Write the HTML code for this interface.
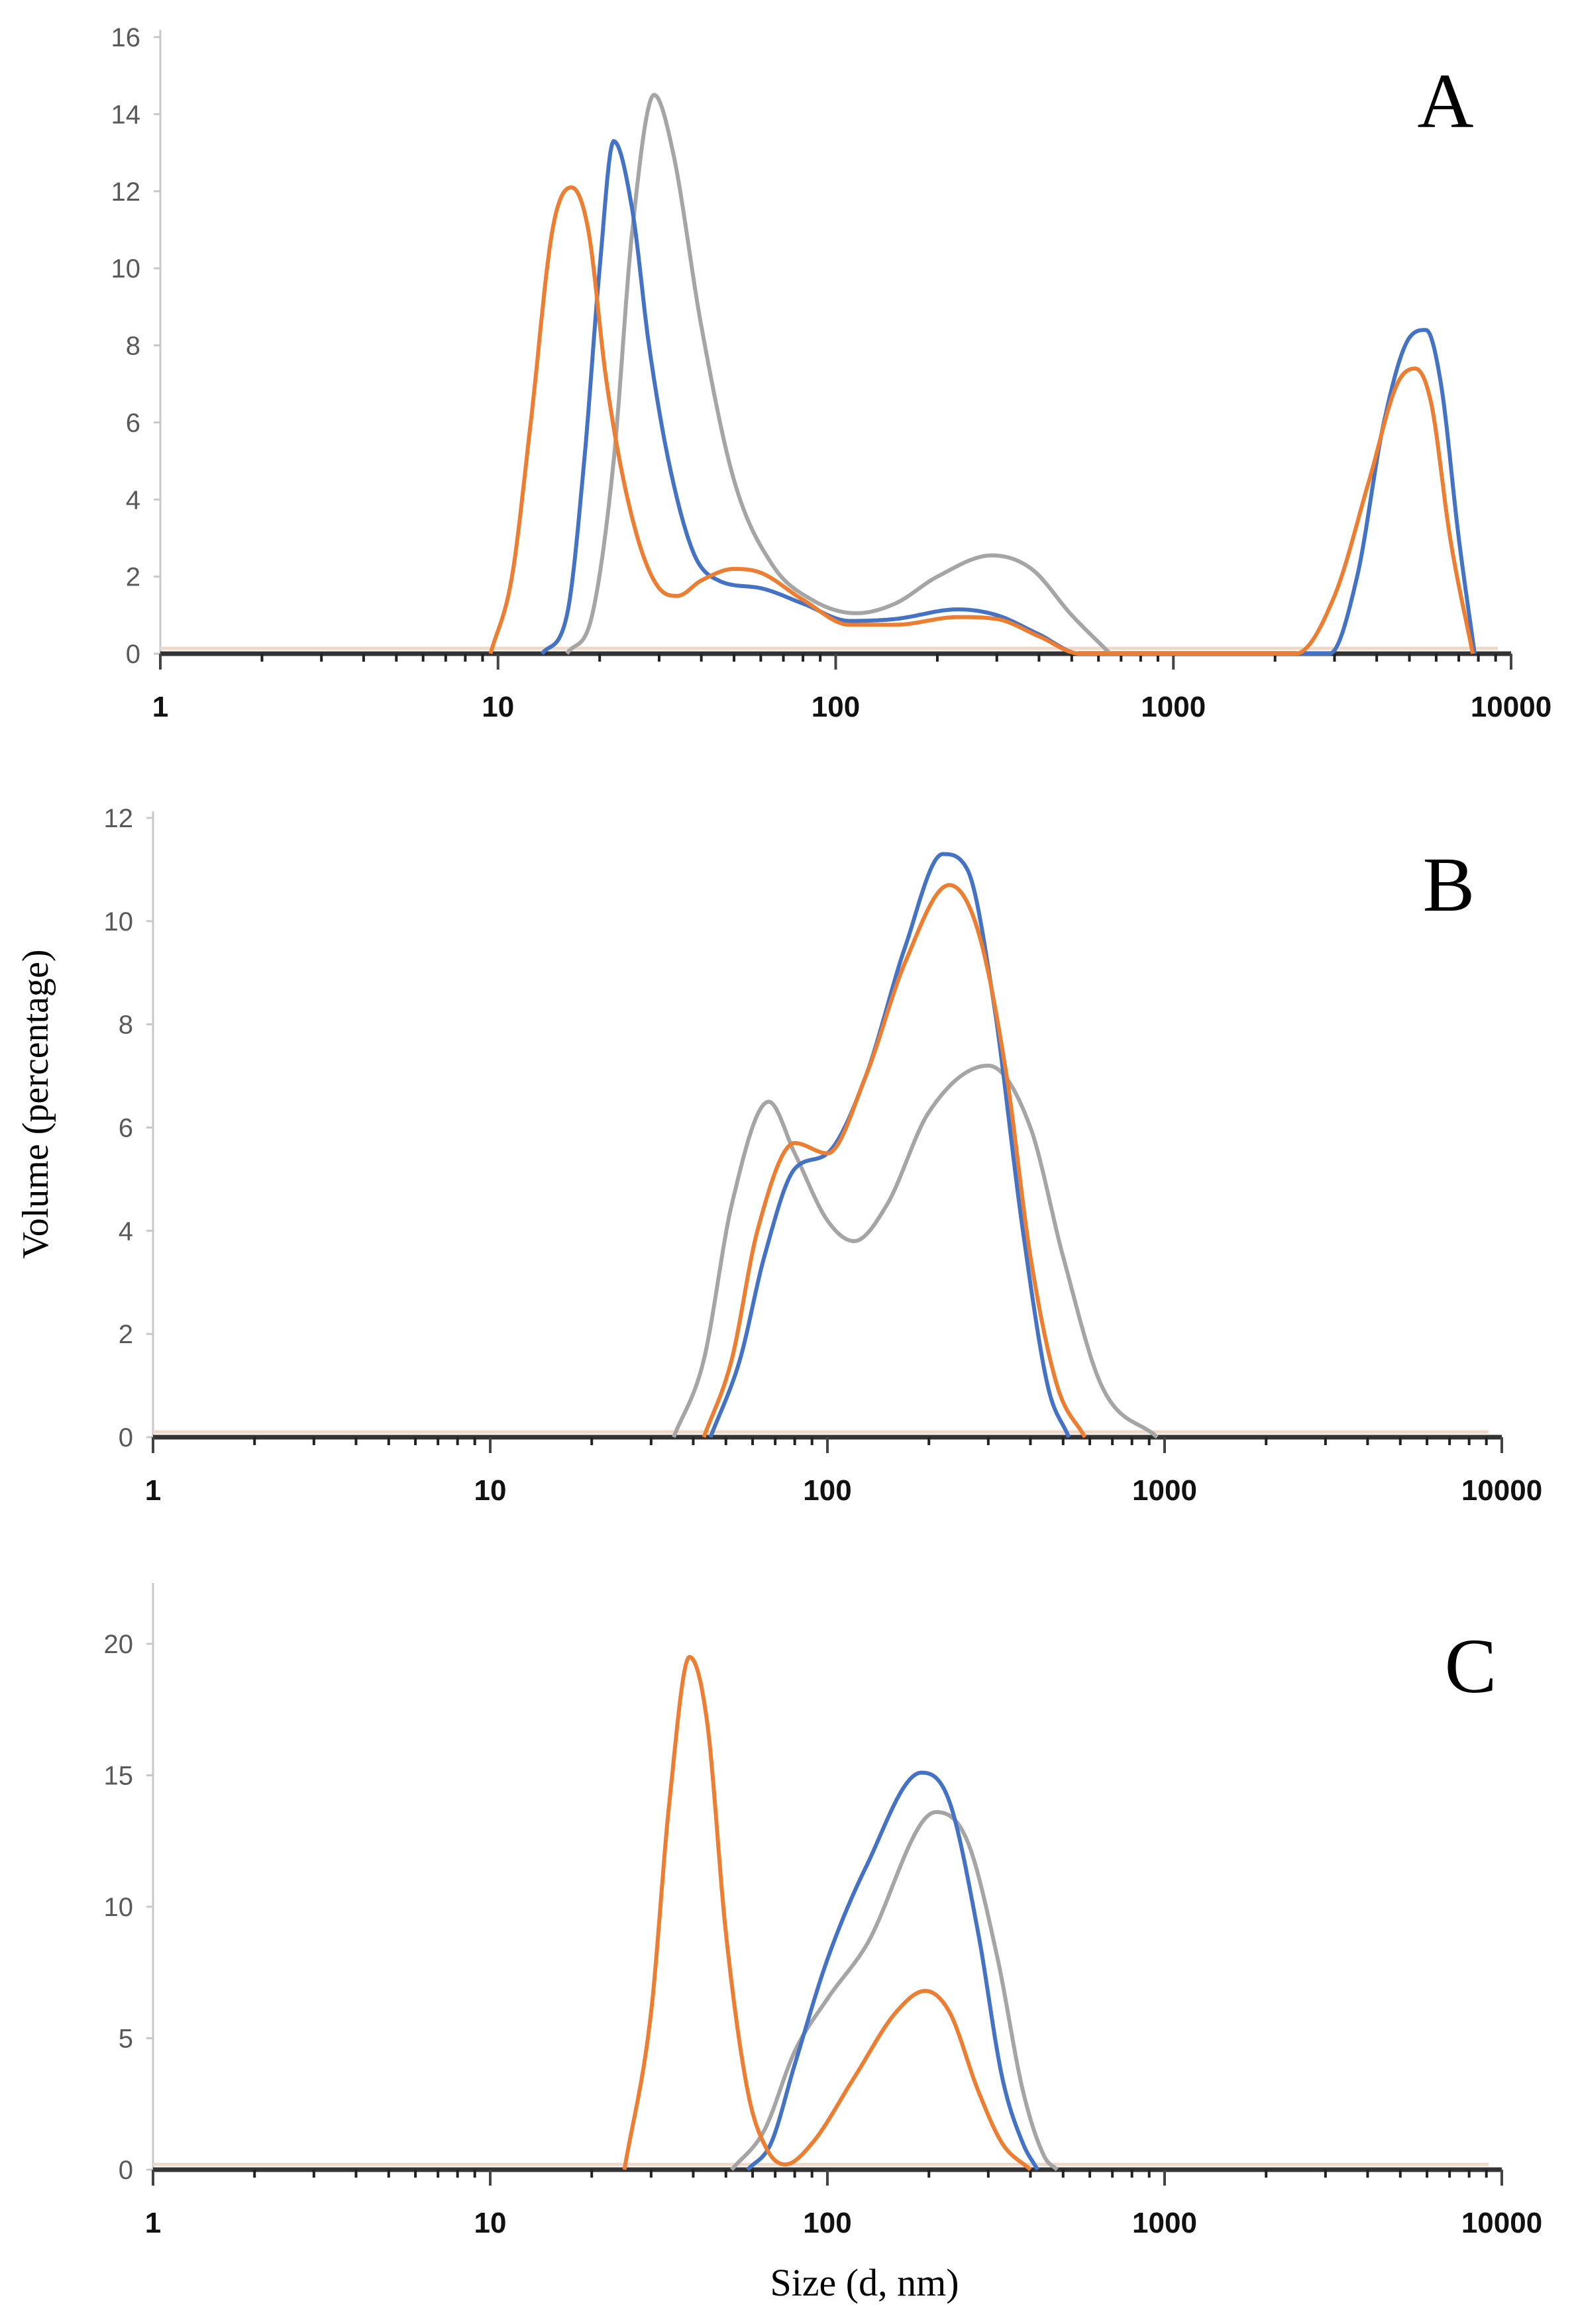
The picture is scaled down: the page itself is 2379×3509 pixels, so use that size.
<!DOCTYPE html>
<html><head><meta charset="utf-8"><style>
html,body{margin:0;padding:0;background:#fff}
svg{display:block}
</style></head><body>
<svg id="chart" width="2379" height="3509" viewBox="0 0 2379 3509" xmlns="http://www.w3.org/2000/svg" font-family="Liberation Sans, sans-serif">
<text x="72" y="1667" transform="rotate(-90 72 1667)" text-anchor="middle" font-family="Liberation Serif, serif" font-size="56" fill="#000">Volume (percentage)</text>
<text x="1305" y="3466" text-anchor="middle" font-family="Liberation Serif, serif" font-size="58" fill="#000">Size (d, nm)</text>
</svg>
<script>
// Panel A
const aBlue = [[13.5,0],[16,1],[18,5],[20,10],[22,13.3],[25,11.5],[28,8],[32,5],[38,2.6],[45,1.9],[60,1.7],[80,1.3],[110,0.85],[150,0.9],[230,1.15],[300,1.0],[400,0.5],[530,0],[2900,0],[3500,2],[4200,6],[5000,8.2],[5600,8.4],[6200,7],[7000,3],[7800,0]];
const aOrange = [[9.5,0],[11,2],[12.5,6],[14.5,11],[16.5,12.1],[18.5,11],[21,7],[25,3.5],[30,1.7],[34,1.5],[40,1.9],[50,2.2],[60,2.1],[80,1.4],[110,0.75],[150,0.75],[230,0.95],[300,0.9],[400,0.45],[530,0],[2300,0],[3000,1.5],[3800,4.5],[4600,7],[5200,7.4],[5800,6.5],[6600,3],[7700,0]];
const aGray = [[16,0],[19,1],[22,5],[25,11],[29,14.5],[33,13],[40,8.5],[50,4.5],[65,2.3],[85,1.4],[115,1.05],[150,1.3],[200,2],[290,2.55],[380,2.2],[500,1],[650,0]];
const aYTicks = [0,2,4,6,8,10,12,14,16];
// Panel B
const bBlue = [[45,0],[55,1.5],[65,3.5],[80,5.2],[100,5.5],[130,7],[170,9.5],[220,11.3],[260,11],[310,8.5],[380,4],[450,1],[520,0]];
const bOrange = [[43,0],[52,1.5],[62,4],[80,5.7],[100,5.5],[130,7],[170,9.2],[230,10.7],[280,9.8],[340,7],[400,3.5],[480,1],[580,0]];
const bGray = [[35,0],[43,1.5],[52,4.5],[67,6.5],[80,5.5],[100,4.2],[120,3.8],[150,4.5],[200,6.3],[300,7.2],[400,6],[500,3.5],[650,1],[950,0]];
const bYTicks = [0,2,4,6,8,10,12];
// Panel C
const cOrange = [[25,0],[30,6],[34,14],[39,19.5],[44,17],[50,9],[58,3],[66,0.8],[75,0.2],[90,1],[120,3.5],[160,6],[195,6.8],[230,6],[280,3],[330,1],[400,0]];
const cBlue = [[58,0],[68,1],[80,4],[100,8],[130,11.5],[190,15.1],[230,14],[280,9],[330,3.5],[380,1],[420,0]];
const cGray = [[52,0],[65,1.5],[80,4.5],[100,6.5],[130,8.5],[210,13.6],[260,12.5],[320,8],[380,3],[440,0.5],[480,0]];
const cYTicks = [0,5,10,15,20];
const xTickLabels = ["1","10","100","1000","10000"];

const NS = "http://www.w3.org/2000/svg";
const svg = document.getElementById('chart');
const COL = {blue:"#4472C4", orange:"#ED7D31", gray:"#A5A5A5"};
function el(tag, attrs, parent){const e=document.createElementNS(NS,tag);for(const k in attrs)e.setAttribute(k,attrs[k]);(parent||svg).appendChild(e);return e;}

// monotone cubic (Fritsch-Carlson) in log-x
function monotone(xs, ys){
  const n=xs.length, d=[], m=new Array(n);
  for(let i=0;i<n-1;i++) d.push((ys[i+1]-ys[i])/(xs[i+1]-xs[i]));
  m[0]=d[0]; m[n-1]=d[n-2];
  for(let i=1;i<n-1;i++){ m[i]=(d[i-1]*d[i]<=0)?0:(d[i-1]+d[i])/2; }
  for(let i=0;i<n-1;i++){
    if(d[i]===0){m[i]=0;m[i+1]=0;continue;}
    const a=m[i]/d[i], b=m[i+1]/d[i], s=a*a+b*b;
    if(s>9){const t=3/Math.sqrt(s); m[i]=t*a*d[i]; m[i+1]=t*b*d[i];}
  }
  return function(x){
    let i=0; while(i<n-2 && x>xs[i+1]) i++;
    const h=xs[i+1]-xs[i], t=(x-xs[i])/h, t2=t*t, t3=t2*t;
    return (2*t3-3*t2+1)*ys[i]+(t3-2*t2+t)*h*m[i]+(-2*t3+3*t2)*ys[i+1]+(t3-t2)*h*m[i+1];
  };
}

function panel(cfg){
  const g = el('g',{});
  
  
  const X = v => cfg.x0 + Math.log10(v) * (cfg.x1 - cfg.x0) / 4;
  const Y = v => cfg.y0 - v * (cfg.y0 - cfg.yTop) / cfg.yMax;
  const ya = el('line',{x1:cfg.x0,y1:cfg.axisTop,x2:cfg.x0,y2:cfg.y0,stroke:"#c8c8c8","stroke-width":3},g);
  
  
  cfg.yTicks.forEach(t=>{
    el('line',{x1:cfg.x0-10,y1:Y(t),x2:cfg.x0,y2:Y(t),stroke:"#c8c8c8","stroke-width":3},g);
    const tx = el('text',{x:cfg.x0-30,y:Y(t)+14,"text-anchor":"end","font-size":40,fill:"#595959"},g);
    tx.textContent = t;
    
    
  });
  el('line',{x1:cfg.x0,y1:cfg.y0-8,x2:cfg.x1-20,y2:cfg.y0-8,stroke:"#f0d8c8","stroke-width":5},g);
  const xa = el('line',{x1:cfg.x0,y1:cfg.y0,x2:cfg.x1,y2:cfg.y0,stroke:"#333","stroke-width":7},g);
  
  
  for(let d=0; d<4; d++){
    for(let m=2;m<=9;m++){
      const xx = X(Math.pow(10,d)*m);
      el('line',{x1:xx,y1:cfg.y0,x2:xx,y2:cfg.y0+12,stroke:"#222","stroke-width":4},g);
    }
  }
  xTickLabels.forEach((lab,i)=>{
    const xx = X(Math.pow(10,i));
    el('line',{x1:xx,y1:cfg.y0,x2:xx,y2:cfg.y0+24,stroke:"#444","stroke-width":4},g);
    const tx = el('text',{x:xx,y:cfg.y0+95,"text-anchor":"middle","font-size":44,"font-weight":"bold",fill:"#111"},g);
    tx.textContent = lab;
    
    
  });
  cfg.series.forEach(s=>{
    const lx = s.data.map(p=>Math.log10(p[0])), ly = s.data.map(p=>p[1]);
    const f = monotone(lx, ly);
    const a = lx[0], b = lx[lx.length-1];
    let d = "";
    const N = 600;
    for(let k=0;k<=N;k++){
      const u = a + (b-a)*k/N;
      const v = Math.max(0, f(u));
      d += (k? " L":"M") + X(Math.pow(10,u)).toFixed(1) + "," + Y(v).toFixed(1);
    }
    const path = el('path',{d:d,fill:"none",stroke:COL[s.color],"stroke-width":6,"stroke-linejoin":"round"},g);
    
    
  });
  const lab = el('text',{x:cfg.labX,y:cfg.labY,"text-anchor":"middle","font-size":118,"font-family":"Liberation Serif, serif",fill:"#000"},g);
  lab.textContent = cfg.id.toUpperCase();
  
  
}

panel({id:'a',x0:242,x1:2281,y0:987,yTop:56,yMax:16,axisTop:45,yTicks:aYTicks,labX:2182,labY:192,
  series:[{data:aGray,color:'gray'},{data:aBlue,color:'blue'},{data:aOrange,color:'orange'}]});
panel({id:'b',x0:231,x1:2267,y0:2170,yTop:1235,yMax:12,axisTop:1225,yTicks:bYTicks,labX:2187,labY:1375,
  series:[{data:bGray,color:'gray'},{data:bBlue,color:'blue'},{data:bOrange,color:'orange'}]});
panel({id:'c',x0:231,x1:2267,y0:3276,yTop:2482,yMax:20,axisTop:2390,yTicks:cYTicks,labX:2220,labY:2555,
  series:[{data:cGray,color:'gray'},{data:cBlue,color:'blue'},{data:cOrange,color:'orange'}]});
</script>
</body></html>
